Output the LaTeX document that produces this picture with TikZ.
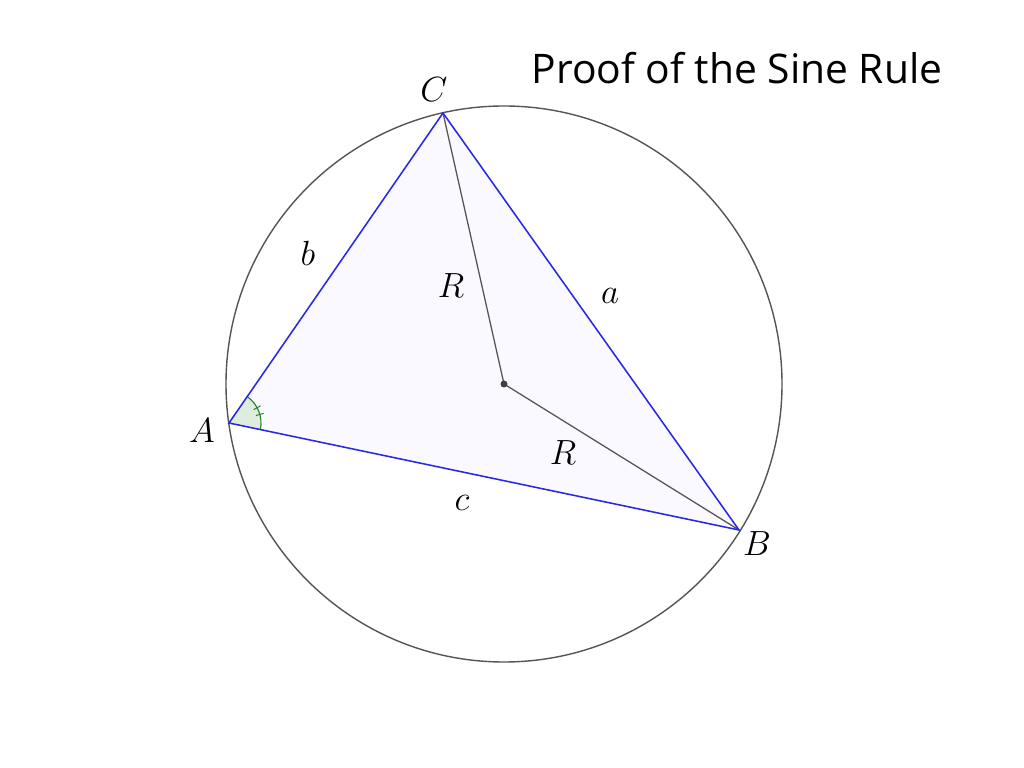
\documentclass[tikz,border=0pt]{standalone}
\usepackage{fontspec}
\newfontfamily\titlefont{Open Sans}
\usetikzlibrary{angles,calc}
\definecolor{sideblue}{RGB}{40,40,230}
\definecolor{triback}{RGB}{249,249,255}
\definecolor{radgray}{RGB}{85,85,85}
\definecolor{anglegreen}{RGB}{40,130,40}
\definecolor{angleback}{RGB}{222,238,222}
\begin{document}
\begin{tikzpicture}[x=0.025cm,y=0.025cm,
  side/.style={draw=sideblue,line width=1.1pt},
  radius line/.style={draw=radgray,line width=0.9pt},
  lbl/.style={font=\fontsize{23}{28}\selectfont}]
\useasboundingbox (0,0) rectangle (1024,768);
\path (737,700) node[font=\titlefont\fontsize{29}{34}\selectfont] (title) {Proof of the Sine Rule};

\path (504,384) coordinate (O);
\path (229,345) coordinate (A);
\path (739,238) coordinate (B);
\path (443,655) coordinate (C);

\draw[radgray,line width=1pt] (O) circle (278);
\fill[triback] (A) -- (B) -- (C) -- cycle;
\pic[draw=anglegreen,fill=angleback,line width=0.8pt,angle radius=0.8cm] {angle=B--A--C};
\draw[anglegreen,line width=0.7pt] ($(A)+(15.5:28)$) -- ($(A)+(15.5:36)$);
\draw[anglegreen,line width=0.7pt] ($(A)+(28.5:28)$) -- ($(A)+(28.5:36)$);

\draw[radius line] (C) -- (O) -- (B);
\draw[side] (A) -- (B) -- (C) -- cycle;
\fill[black!75] (O) circle (3.5);

\path (434,678) node[lbl] (labC) {$C$};
\path (202,337) node[lbl] (labA) {$A$};
\path (757,224) node[lbl] (labB) {$B$};
\path (308,515) node[lbl] (labb) {$b$};
\path (610,472) node[lbl] (laba) {$a$};
\path (462,265) node[lbl] (labc) {$c$};
\path (451,482) node[lbl] (labR1) {$R$};
\path (563,315) node[lbl] (labR2) {$R$};
\end{tikzpicture}
\end{document}
